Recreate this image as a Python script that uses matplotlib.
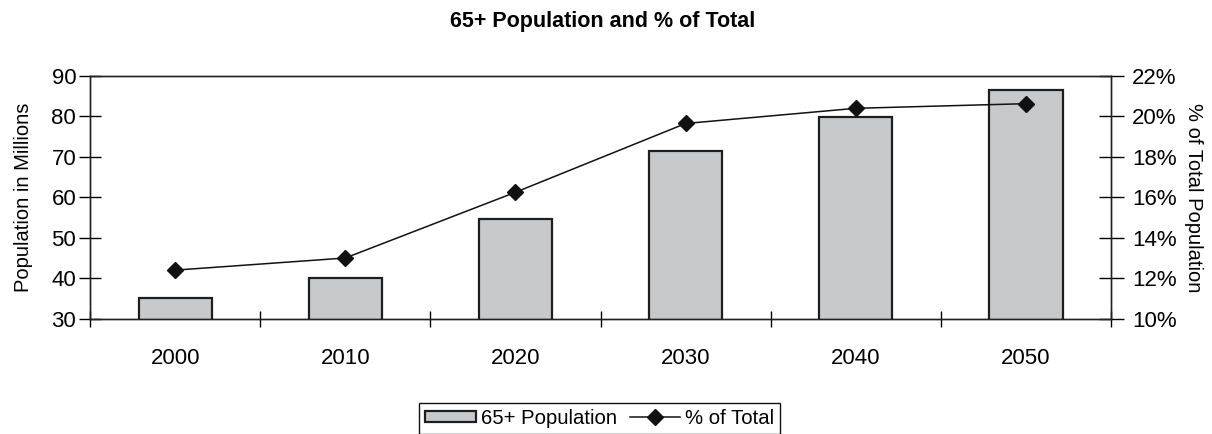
from matplotlib import pyplot as plt
from matplotlib.ticker import FixedLocator, PercentFormatter
import numpy as np

plt.rcParams['font.family'] = ['Liberation Sans', 'DejaVu Sans']

# Données : population 65+ (millions) et part dans la population totale (%)
annees = ['2000', '2010', '2020', '2030', '2040', '2050']
pop_65 = [35.0, 40.1, 54.6, 71.5, 79.9, 86.5]
pct_total = [12.4, 13.0, 16.25, 19.65, 20.4, 20.63]

x = np.arange(len(annees))
fig = plt.figure(figsize=(12.12, 4.34), dpi=100)
ax = fig.add_axes([0.0743, 0.2657, 0.8424, 0.5593])
ax2 = ax.twinx()

barres = ax.bar(x, pop_65, width=0.43, bottom=0, color='#c8c9cb',
                edgecolor='#1e1e1e', linewidth=1.6, label='65+ Population')
ligne, = ax2.plot(x, pct_total, color='#111111', linewidth=1.1, marker='D',
                  markersize=8, markerfacecolor='#111111', label='% of Total')

ax.set_xlim(-0.5, len(annees) - 0.5)
ax.set_ylim(30, 90)
ax2.set_ylim(10, 22)
ax.set_yticks(np.arange(30, 91, 10))
ax2.set_yticks(np.arange(10, 23, 2))
ax2.yaxis.set_major_formatter(PercentFormatter(decimals=0))

# graduations entre les catégories, étiquettes au centre
ax.xaxis.set_major_locator(FixedLocator(np.arange(-0.5, len(annees), 1)))
ax.xaxis.set_major_formatter(plt.NullFormatter())
ax.xaxis.set_minor_locator(FixedLocator(x))
ax.set_xticklabels(annees, minor=True)
ax.tick_params(axis='x', which='minor', length=0, pad=21, labelsize=16)
ax.tick_params(axis='x', which='major', direction='inout', length=12, width=1)
ax.tick_params(axis='y', direction='inout', length=16, width=1, labelsize=16, pad=2)
ax2.tick_params(axis='y', direction='inout', length=18, width=1, labelsize=16, pad=6)

for a in (ax, ax2):
    for s in a.spines.values():
        s.set_color('#222222')
        s.set_linewidth(1.0)

ax.set_ylabel('Population in Millions', fontsize=14.5, labelpad=13)
ax2.set_ylabel('% of Total Population', fontsize=14.5, rotation=270, labelpad=19)
fig.suptitle('65+ Population and % of Total', fontsize=15.5, fontweight='bold',
             x=0.497, y=0.975)

fig.legend([barres, ligne], ['65+ Population', '% of Total'], ncol=2,
           loc='upper center', bbox_to_anchor=(0.495, 0.072), fontsize=14.6,
           frameon=True, fancybox=False, edgecolor='#111111', framealpha=1,
           handlelength=2.5, handleheight=0.5, handletextpad=0.25,
           columnspacing=0.6, borderpad=0.3, borderaxespad=0)

plt.savefig('out.png', dpi=100)
